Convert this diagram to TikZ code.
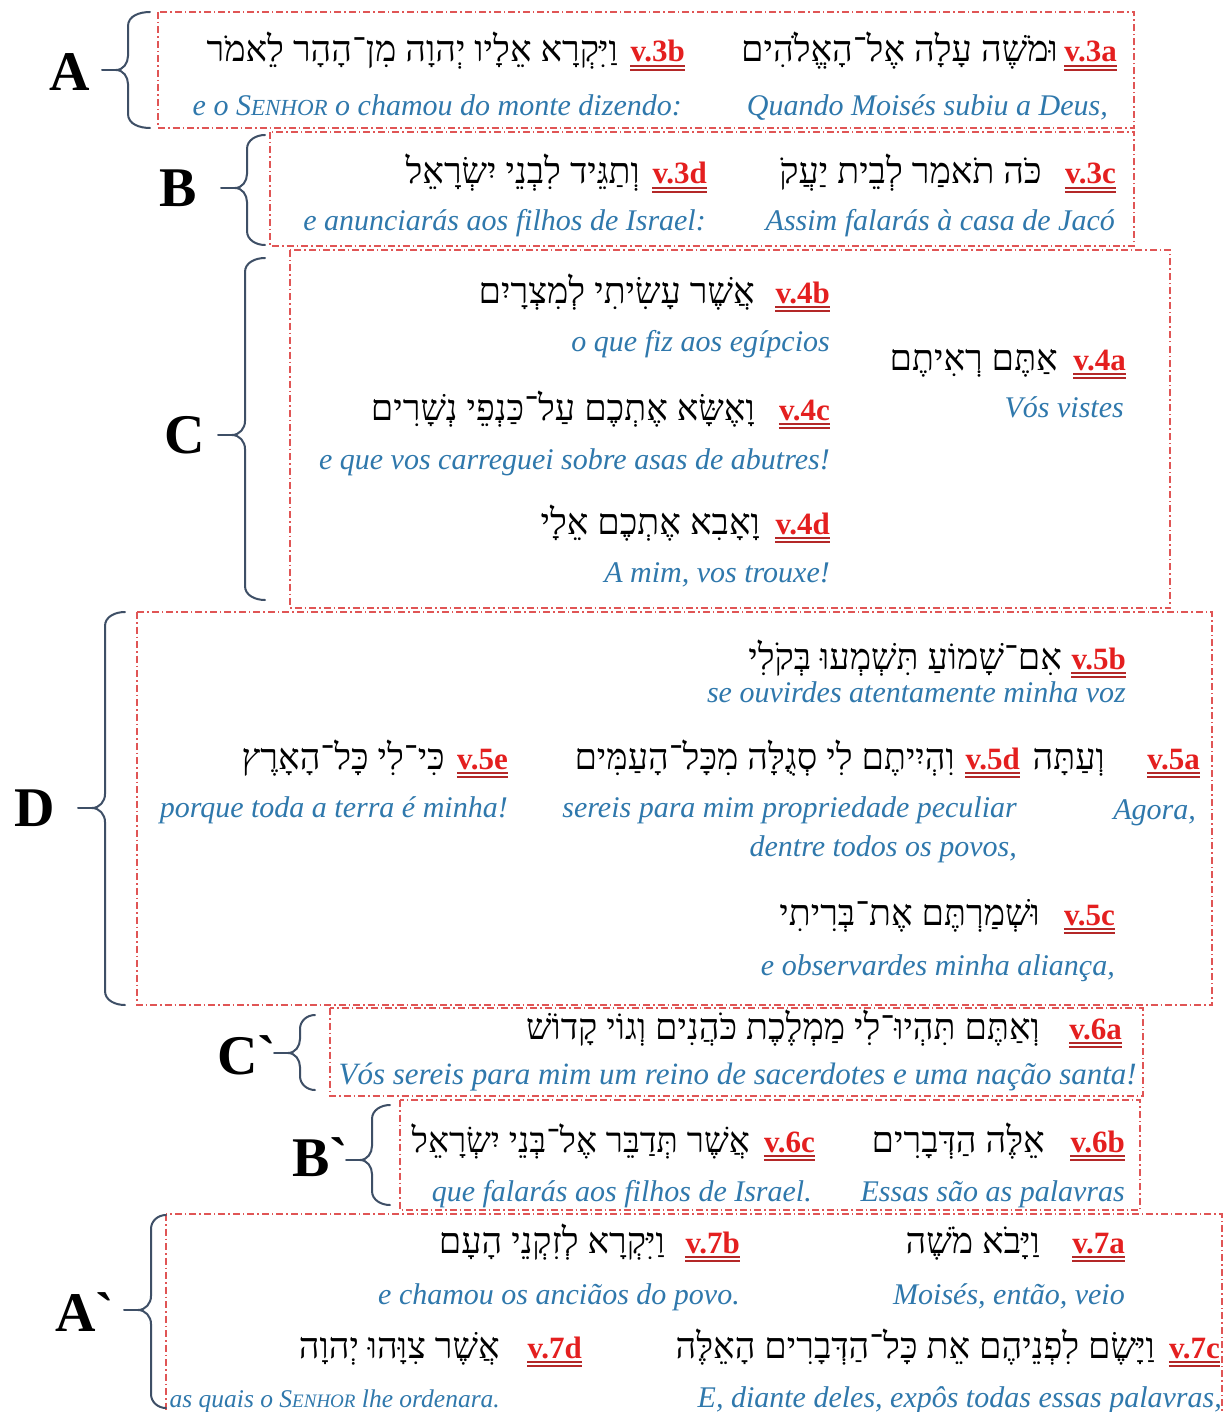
\documentclass[tikz,border=0pt]{standalone}
\usepackage{fontspec}
\setmainfont{Liberation Serif}
\newfontfamily\hebf[Script=Hebrew]{Liberation Serif}
\TeXXeTstate=1
\definecolor{vred}{HTML}{E41F1F}
\definecolor{ulred}{HTML}{B42828}
\definecolor{pblue}{HTML}{2F78AC}
\definecolor{boxred}{HTML}{E05555}
\definecolor{brc}{HTML}{3E4F66}
\tikzset{
  lab/.style={font=\fontsize{31}{31}\selectfont\bfseries, text=vred, inner sep=0pt, anchor=base east},
  heb/.style={font=\fontsize{36}{36}\selectfont\hebf, text=black, inner sep=0pt, anchor=base east},
  por/.style={font=\fontsize{30}{30}\selectfont\itshape, text=pblue, inner sep=0pt, anchor=base east},
  ul/.style={ulred, line width=1.2pt},
  box/.style={boxred, line width=1.1pt, dash pattern=on 7pt off 3pt on 1.5pt off 3pt},
  bigl/.style={font=\fontsize{56}{56}\selectfont\bfseries, text=black, inner sep=0pt},
  brst/.style={brc, line width=2pt, line cap=round, line join=round}
}
\newcommand\vlab[4]{%
  \node[lab] (#1) at (#2,#3) {#4};
  \draw[ul] ([yshift=-4pt]#1.base west) -- ([yshift=-4pt]#1.base east);
  \draw[ul] ([yshift=-8pt]#1.base west) -- ([yshift=-8pt]#1.base east);
}
% xr, xv, xt, top, mid, bottom
\newcommand\mybrace[6]{%
  \draw[brst] (#1,#4) to[out=180,in=90] (#2,{#4+14}) -- (#2,{#5-14})
     to[out=-90,in=0] (#3,#5) to[out=0,in=90] (#2,{#5+14}) -- (#2,{#6-14})
     to[out=-90,in=180] (#1,#6);
  \draw[brst] (#3,#5) -- ++(-14,0);
}
\begin{document}
\begin{tikzpicture}[x=1pt,y=-1pt]
\useasboundingbox (0,0) rectangle (1231,1412);
\fill[white] (0,0) rectangle (1231,1412);

% boxes
\draw[box] (158,12) rectangle (1134,128);
\draw[box] (270,132) rectangle (1134,246);
\draw[box] (290,250) rectangle (1170,608);
\draw[box] (137,612) rectangle (1212,1005);
\draw[box] (330,1008) rectangle (1143,1096);
\draw[box] (400,1100) rectangle (1140,1210);
\draw[box] (166,1214) rectangle (1222,1420);

% braces and letters
\node[bigl] (LA) at (70,72) {A};
\mybrace{150}{128}{116}{12}{70}{128}
\node[bigl] (LB) at (178,188) {B};
\mybrace{265}{247}{235}{135}{188}{245}
\node[bigl] (LC) at (185,435) {C};
\mybrace{265}{245}{232}{258}{435}{600}
\node[bigl] (LD) at (35,808) {D};
\mybrace{125}{105}{92}{612}{808}{1005}
\node[bigl] (LC2) at (247,1055) {C\textasciigrave};
\mybrace{315}{300}{288}{1015}{1053}{1090}
\node[bigl] (LB2) at (320,1157) {B\textasciigrave};
\mybrace{390}{372}{360}{1105}{1160}{1205}
\node[bigl] (LA2) at (85,1312) {A\textasciigrave};
\mybrace{166}{151}{138}{1215}{1310}{1408}

% A
\vlab{l3a}{1117}{62}{v.3a}
\node[heb] (h3a) at (1058,62) {\beginR וּמֹשֶׁה עָלָה אֶל־הָאֱלֹהִים\endR};
\node[por] (p3a) at (1108,116) {Quando Moisés subiu a Deus,};
\vlab{l3b}{685}{62}{v.3b}
\node[heb] (h3b) at (618,62) {\beginR וַיִּקְרָא אֵלָיו יְהוָה מִן־הָהָר לֵאמֹר\endR};
\node[por] (p3b) at (682,116) {e o S{\fontsize{23}{23}\selectfont ENHOR} o chamou do monte dizendo:};

% B
\vlab{l3c}{1116}{184}{v.3c}
\node[heb] (h3c) at (1042,184) {\beginR כֹּה תֹאמַר לְבֵית יַעֲקֹ\endR};
\node[por] (p3c) at (1115,231) {Assim falarás à casa de Jacó};
\vlab{l3d}{707}{184}{v.3d}
\node[heb] (h3d) at (640,184) {\beginR וְתַגֵּיד לִבְנֵי יִשְׂרָאֵל\endR};
\node[por] (p3d) at (706,231) {e anunciarás aos filhos de Israel:};

% C
\vlab{l4b}{830}{303}{v.4b}
\node[heb] (h4b) at (755,303) {\beginR אֲשֶׁר עָשִׂיתִי לְמִצְרָיִם\endR};
\node[por] (p4b) at (830,351) {o que fiz aos egípcios};
\vlab{l4a}{1126}{370}{v.4a}
\node[heb] (h4a) at (1058,370) {\beginR אַתֶּם רְאִיתֶם\endR};
\node[por] (p4a) at (1124,417) {Vós vistes};
\vlab{l4c}{830}{420}{v.4c}
\node[heb] (h4c) at (755,420) {\beginR וָאֶשָּׂא אֶתְכֶם עַל־כַּנְפֵי נְשָׁרִים\endR};
\node[por] (p4c) at (830,469) {e que vos carreguei sobre asas de abutres!};
\vlab{l4d}{830}{534}{v.4d}
\node[heb] (h4d) at (760,534) {\beginR וָאָבִא אֶתְכֶם אֵלָי\endR};
\node[por] (p4d) at (830,582) {A mim, vos trouxe!};

% D
\vlab{l5b}{1126}{669}{v.5b}
\node[heb] (h5b) at (1062,669) {\beginR אִם־שָׁמוֹעַ תִּשְׁמְעוּ בְּקֹלִי\endR};
\node[por] (p5b) at (1126,702) {se ouvirdes atentamente minha voz};
\vlab{l5a}{1200}{769}{v.5a}
\node[heb] (h5a) at (1105,769) {\beginR וְעַתָּה\endR};
\node[por] (p5a) at (1196,819) {Agora,};
\vlab{l5d}{1020}{769}{v.5d}
\node[heb] (h5d) at (955,769) {\beginR וִהְיִיתֶם לִי סְגֻלָּה מִכָּל־הָעַמִּים\endR};
\node[por] (p5d) at (1017,817) {sereis para mim propriedade peculiar};
\node[por] (p5d2) at (1017,856) {dentre todos os povos,};
\vlab{l5e}{508}{769}{v.5e}
\node[heb] (h5e) at (445,769) {\beginR כִּי־לִי כָּל־הָאָרֶץ\endR};
\node[por] (p5e) at (508,817) {porque toda a terra é minha!};
\vlab{l5c}{1115}{925}{v.5c}
\node[heb] (h5c) at (1040,925) {\beginR וּשְׁמַרְתֶּם אֶת־בְּרִיתִי\endR};
\node[por] (p5c) at (1115,975) {e observardes minha aliança,};

% C`
\vlab{l6a}{1122}{1039}{v.6a}
\node[heb] (h6a) at (1040,1039) {\beginR וְאַתֶּם תִּהְיוּ־לִי מַמְלֶכֶת כֹּהֲנִים וְגוֹי קָדוֹשׁ\endR};
\node[por, font=\fontsize{31}{31}\selectfont\itshape] (p6a) at (1137,1084) {Vós sereis para mim um reino de sacerdotes e uma nação santa!};

% B`
\vlab{l6b}{1125}{1152}{v.6b}
\node[heb] (h6b) at (1045,1152) {\beginR אֵלֶּה הַדְּבָרִים\endR};
\node[por] (p6b) at (1125,1201) {Essas são as palavras};
\vlab{l6c}{815}{1152}{v.6c}
\node[heb, font=\fontsize{35}{35}\selectfont\hebf] (h6c) at (750,1152) {\beginR אֲשֶׁר תְּדַבֵּר אֶל־בְּנֵי יִשְׂרָאֵל\endR};
\node[por] (p6c) at (812,1201) {que falarás aos filhos de Israel.};

% A`
\vlab{l7a}{1125}{1253}{v.7a}
\node[heb] (h7a) at (1040,1253) {\beginR וַיָּבֹא מֹשֶׁה\endR};
\node[por] (p7a) at (1125,1304) {Moisés, então, veio};
\vlab{l7b}{740}{1253}{v.7b}
\node[heb] (h7b) at (665,1253) {\beginR וַיִּקְרָא לְזִקְנֵי הָעָם\endR};
\node[por] (p7b) at (740,1304) {e chamou os anciãos do povo.};
\vlab{l7c}{1220}{1358}{v.7c}
\node[heb] (h7c) at (1155,1358) {\beginR וַיָּשֶׂם לִפְנֵיהֶם אֵת כָּל־הַדְּבָרִים הָאֵלֶּה\endR};
\node[por] (p7c) at (1222,1407) {E, diante deles, expôs todas essas palavras,};
\vlab{l7d}{582}{1358}{v.7d}
\node[heb] (h7d) at (500,1358) {\beginR אֲשֶׁר צִוָּהוּ יְהוָה\endR};
\node[por, font=\fontsize{25.5}{25.5}\selectfont\itshape] (p7d) at (500,1407) {as quais o S{\fontsize{19}{19}\selectfont ENHOR} lhe ordenara.};
\end{tikzpicture}
\end{document}
